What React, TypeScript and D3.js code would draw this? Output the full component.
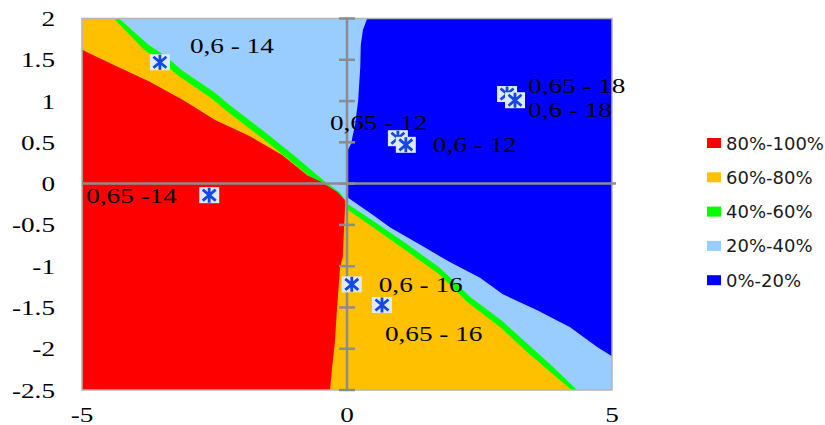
import React from 'react';
import * as d3 from 'd3';

// region boundaries, in data units [x, y]
const BLUE_EDGE: [number, number][] = [
  [0.38, 2.0], [0.30, 1.86], [0.26, 1.68], [0.25, 1.41], [0.21, 1.0], [0.15, 0.70],
  [0.11, 0.59], [0.08, 0.49], [0.02, 0.41], [0.02, -0.17], [0.11, -0.21], [0.49, -0.38],
  [0.81, -0.53], [1.43, -0.76], [1.94, -0.95], [2.51, -1.14], [2.94, -1.34], [3.58, -1.53],
  [4.21, -1.74], [4.72, -1.98], [5.0, -2.09],
];
const GREEN_EDGE: [number, number][] = [
  [-4.30, 2.0], [-3.74, 1.68], [-3.43, 1.55], [-3.11, 1.37], [-2.49, 1.10], [-2.21, 0.95],
  [-1.58, 0.64], [-0.94, 0.31], [-0.45, 0.04], [-0.13, -0.11], [0.02, -0.25], [0.49, -0.45],
  [1.13, -0.73], [1.75, -1.02], [2.32, -1.37], [2.94, -1.67], [3.42, -1.95], [3.89, -2.22],
  [4.34, -2.5],
];
const ORANGE_EDGE: [number, number][] = [
  [-4.40, 2.0], [-3.83, 1.62], [-3.51, 1.48], [-3.17, 1.30], [-2.55, 1.03], [-2.27, 0.88],
  [-1.64, 0.57], [-1.00, 0.24], [-0.50, -0.02], [-0.18, -0.17], [0.0, -0.31], [0.47, -0.52],
  [1.09, -0.80], [1.72, -1.09], [2.28, -1.44], [2.91, -1.75], [3.38, -2.03], [3.83, -2.28],
  [4.24, -2.5],
];
const RED_EDGE: [number, number][] = [
  [-5.0, 1.62], [-4.38, 1.43], [-3.74, 1.24], [-3.11, 1.02], [-2.49, 0.77], [-1.85, 0.58],
  [-1.23, 0.35], [-0.75, 0.10], [-0.51, 0.03], [-0.19, -0.10], [-0.04, -0.20],
  [-0.04, -0.32], [-0.08, -0.89], [-0.13, -1.01], [-0.19, -1.53], [-0.23, -1.93],
  [-0.28, -2.22], [-0.32, -2.5],
];

const X_TICKS = [-5, 0, 5];
const Y_TICKS = [2, 1.5, 1, 0.5, 0, -0.5, -1, -1.5, -2, -2.5];

const LEGEND_LABELS = ['80%-100%', '60%-80%', '40%-60%', '20%-40%', '0%-20%'];
const COLORS = ['#ff0000', '#ffc000', '#00ff00', '#99ccff', '#0000ff'];

const POINT_LABELS = ['0,6 - 14', '0,65 -14', '0,65 - 12', '0,6 - 12', '0,65 - 18', '0,6 - 18', '0,6 - 16', '0,65 - 16'];
const POINT_X = [-3.53, -2.6, 0.96, 1.11, 3.02, 3.17, 0.09, 0.66];
const POINT_Y = [1.47, -0.14, 0.55, 0.47, 1.085, 1.01, -1.22, -1.47];
// label placement relative to each marker (px)
const LABEL_OFFSETS = [[30, -9], [-123, 8], [-68, -8], [27, 7], [21, -1], [13, 17], [27, 8], [3, 36]];

const W = 825;
const H = 425;
const SERIF = '"Liberation Serif", "DejaVu Serif", serif';
const STRETCH = 1.36;

export default function App() {
  const x = d3.scaleLinear().domain([-5, 5]).range([82, 612]);
  const y = d3.scaleLinear().domain([-2.5, 2]).range([390, 18.5]);
  const line = d3.line<[number, number]>().x(d => x(d[0])).y(d => y(d[1]));
  const poly = (pts: [number, number][]) => line(pts) + 'Z';

  const blue = poly([...BLUE_EDGE, [5, 2]]);
  const green = poly([[-5, 2], ...GREEN_EDGE, [-5, -2.5]]);
  const orange = poly([[-5, 2], ...ORANGE_EDGE, [-5, -2.5]]);
  const red = poly([...RED_EDGE, [-5, -2.5]]);

  const axisColor = '#8c8c8c';

  return (
    <svg width={W} height={H} style={{ position: 'absolute', left: 0, top: 0, background: '#fff' }}>
      {/* plot area */}
      <rect x={x(-5)} y={y(2)} width={x(5) - x(-5)} height={y(-2.5) - y(2)} fill={COLORS[3]} />
      <path d={blue} fill={COLORS[4]} />
      <path d={green} fill={COLORS[2]} />
      <path d={orange} fill={COLORS[1]} />
      <path d={red} fill={COLORS[0]} />
      <rect x={x(-5)} y={y(2)} width={x(5) - x(-5)} height={y(-2.5) - y(2)} fill="none" stroke="#b4b4b4" strokeWidth={1.5} />

      {/* axes through the origin */}
      <line x1={x(-5)} x2={x(5) + 4} y1={y(0)} y2={y(0)} stroke={axisColor} strokeWidth={2.5} />
      <line x1={x(0)} x2={x(0)} y1={y(2)} y2={y(-2.5)} stroke={axisColor} strokeWidth={2.5} />
      {Y_TICKS.map(t => (
        <line key={t} x1={x(0) - 8} x2={x(0) + 8} y1={y(t)} y2={y(t)} stroke={axisColor} strokeWidth={2.5} />
      ))}

      {/* tick labels */}
      {Y_TICKS.map(t => (
        <text key={t} transform={`translate(55,${y(t) + 7.5}) scale(${STRETCH},1)`} textAnchor="end"
          fontFamily={SERIF} fontSize={20} fill="#000">{String(t)}</text>
      ))}
      {X_TICKS.map(t => (
        <text key={t} transform={`translate(${x(t)},422) scale(${STRETCH},1)`} textAnchor="middle"
          fontFamily={SERIF} fontSize={20} fill="#000">{String(t)}</text>
      ))}

      {/* markers */}
      {POINT_LABELS.map((lab, i) => {
        const cx = x(POINT_X[i]);
        const cy = y(POINT_Y[i]);
        return (
          <g key={i} transform={`translate(${cx},${cy})`}>
            <rect x={-10} y={-8} width={20} height={16} fill="#dfeaf7" />
            <path d="M0,-7.5V7.5M-6.5,-5.5L6.5,5.5M-6.5,5.5L6.5,-5.5" stroke="#1546e6" strokeWidth={2.8} fill="none" />
          </g>
        );
      })}
      {POINT_LABELS.map((lab, i) => (
        <text key={i}
          transform={`translate(${x(POINT_X[i]) + LABEL_OFFSETS[i][0]},${y(POINT_Y[i]) + LABEL_OFFSETS[i][1]}) scale(${STRETCH},1)`}
          fontFamily={SERIF} fontSize={20} fill="#000">{lab}</text>
      ))}

      {/* legend */}
      {LEGEND_LABELS.map((lab, i) => (
        <g key={lab} transform={`translate(707,${143 + i * 34.3})`}>
          <rect x={0} y={-5} width={14} height={10} fill={COLORS[i]} />
          <text x={19} y={6.5} fontFamily='"DejaVu Sans", Verdana, sans-serif' fontSize={18} fill="#1a1a1a">{lab}</text>
        </g>
      ))}
    </svg>
  );
}
